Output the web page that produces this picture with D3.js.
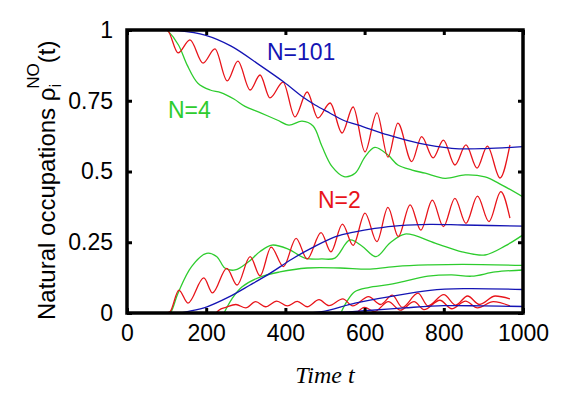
<!DOCTYPE html>
<html>
<head>
<meta charset="utf-8">
<script src="https://cdn.jsdelivr.net/npm/d3@7"></script>
<style>
  body { margin: 0; background: #fff; }
  svg { display: block; }
  text { font-family: "Liberation Sans", Arial, sans-serif; }
</style>
</head>
<body>
<div id="chart"></div>
<script>
// values: [time, occupation]
var xTicks = [0, 200, 400, 600, 800, 1000];
var yTicks = [0, 0.25, 0.5, 0.75, 1];
var yTickLabels = ["0", "0.25", "0.5", "0.75", "1"];

// N=101 (blue)
var blueTop = [[100,1],[129,0.998],[197,0.982],[263,0.943],[336,0.875],[396,0.816],[444,0.763],[475,0.735],[513,0.706],[545,0.682],[597,0.658],[659,0.629],[736,0.6],[820,0.582],[904,0.581],[1000,0.588]];
var blueMid = [[100,0],[134,0],[152,0.005],[202,0.022],[255,0.055],[311,0.099],[361,0.14],[417,0.191],[467,0.23],[525,0.269],[576,0.287],[626,0.299],[689,0.309],[765,0.313],[848,0.311],[1000,0.307]];
var blueLow = [[440,0],[492,0.005],[576,0.035],[664,0.058],[765,0.08],[850,0.086],[1000,0.083]];
var blueBottom = [[520,0],[600,0.008],[700,0.018],[800,0.026],[900,0.025],[1000,0.023]];

// N=2 (red)
var redTop = [[100,1],[104,0.996],[129,0.919],[159,0.965],[192,0.883],[222,0.933],[253,0.82],[280,0.89],[311,0.788],[336,0.841],[361,0.76],[394,0.816],[424,0.693],[455,0.781],[482,0.689],[513,0.742],[543,0.636],[571,0.728],[601,0.569],[631,0.707],[659,0.551],[684,0.671],[719,0.535],[744,0.623],[773,0.548],[799,0.611],[828,0.523],[856,0.594],[884,0.512],[910,0.59],[942,0.477],[967,0.594]];
var redMid = [[100,0],[109,0.005],[131,0.081],[154,0.035],[194,0.124],[216,0.071],[252,0.158],[278,0.099],[311,0.199],[336,0.131],[364,0.233],[395,0.164],[427,0.264],[455,0.191],[490,0.284],[515,0.216],[544,0.314],[571,0.239],[601,0.353],[631,0.252],[659,0.373],[685,0.27],[715,0.382],[742,0.293],[771,0.399],[799,0.305],[828,0.405],[856,0.317],[885,0.413],[914,0.323],[944,0.429],[967,0.335]];
var redLow = [[225,0],[232,0.01],[250,0.02],[275,0.03],[300,0.018],[325,0.04],[350,0.022],[378,0.042],[405,0.025],[430,0.041],[455,0.022],[485,0.047],[510,0.026],[545,0.05],[570,0.025],[610,0.058],[640,0.03],[670,0.063],[695,0.02],[735,0.07],[760,0.025],[800,0.065],[830,0.028],[860,0.06],[890,0.03],[930,0.06],[967,0.05]];
var redBottom = [[580,0],[600,0.02],[625,0.005],[660,0.04],[690,0.01],[725,0.04],[750,0.012],[790,0.045],[820,0.015],[855,0.042],[885,0.018],[925,0.04],[967,0.025]];

// N=4 (green)
var greenTop = [[100,1],[104,0.996],[130,0.947],[152,0.876],[179,0.812],[210,0.788],[237,0.779],[270,0.756],[298,0.73],[336,0.708],[379,0.682],[409,0.664],[442,0.678],[470,0.661],[492,0.59],[518,0.517],[548,0.482],[576,0.494],[601,0.552],[626,0.585],[659,0.558],[684,0.523],[720,0.505],[753,0.494],[803,0.476],[854,0.488],[904,0.481],[947,0.452],[1000,0.41]];
var greenB = [[100,0],[109,0],[129,0.071],[163,0.164],[201,0.211],[227,0.199],[247,0.159],[273,0.152],[306,0.18],[336,0.217],[366,0.24],[407,0.226],[449,0.194],[492,0.191],[525,0.194],[563,0.258],[593,0.237],[629,0.199],[664,0.247],[702,0.279],[778,0.247],[846,0.216],[904,0.205],[955,0.237],[1000,0.276]];
var greenC = [[245,0],[265,0.05],[290,0.092],[336,0.127],[386,0.145],[455,0.159],[538,0.159],[614,0.155],[682,0.165],[765,0.17],[848,0.172],[1000,0.168]];
var greenD = [[540,0],[555,0.04],[575,0.075],[610,0.09],[660,0.1],[700,0.112],[760,0.13],[820,0.135],[870,0.13],[930,0.145],[1000,0.152]];

var width = 561, height = 393;
var margin = {top: 30, right: 38, bottom: 80, left: 127};

var svg = d3.select("#chart").append("svg")
    .attr("width", width)
    .attr("height", height);

var x = d3.scaleLinear().domain([0, 1000]).range([margin.left, width - margin.right]);
var y = d3.scaleLinear().domain([0, 1]).range([height - margin.bottom, margin.top]);

var plot = svg.append("g");
svg.append("clipPath").attr("id", "clip")
    .append("rect")
    .attr("x", x(0)).attr("y", y(1))
    .attr("width", x(1000) - x(0)).attr("height", y(0) - y(1));

var smooth = d3.line()
    .x(function(d) { return x(d[0]); })
    .y(function(d) { return y(d[1]); })
    .curve(d3.curveCatmullRom.alpha(0.5));
var wavy = d3.line()
    .x(function(d) { return x(d[0]); })
    .y(function(d) { return y(d[1]); })
    .curve(d3.curveMonotoneX);

var series = [
    {d: greenTop, c: "#2ecc2e", l: smooth},
    {d: greenB, c: "#2ecc2e", l: smooth},
    {d: greenC, c: "#2ecc2e", l: smooth},
    {d: greenD, c: "#2ecc2e", l: smooth},
    {d: redTop, c: "#e8141a", l: wavy},
    {d: redMid, c: "#e8141a", l: wavy},
    {d: redLow, c: "#e8141a", l: wavy},
    {d: redBottom, c: "#e8141a", l: wavy},
    {d: blueTop, c: "#1414b4", l: smooth},
    {d: blueMid, c: "#1414b4", l: smooth},
    {d: blueLow, c: "#1414b4", l: smooth},
    {d: blueBottom, c: "#1414b4", l: smooth}
];

plot.selectAll("path.curve")
    .data(series)
    .enter().append("path")
    .attr("class", "curve")
    .attr("clip-path", "url(#clip)")
    .attr("fill", "none")
    .attr("stroke", function(d) { return d.c; })
    .attr("stroke-width", 1.3)
    .attr("d", function(d) { return d.l(d.d); });

// inward ticks on all four sides
var tickLen = 5;
var xAxisB = d3.axisBottom(x).tickValues(xTicks).tickSizeInner(-tickLen).tickSizeOuter(0).tickPadding(12)
    .tickFormat(d3.format("d"));
var xAxisT = d3.axisTop(x).tickValues(xTicks).tickSizeInner(-tickLen).tickSizeOuter(0).tickFormat("");
var yAxisL = d3.axisLeft(y).tickValues(yTicks).tickSizeInner(-tickLen).tickSizeOuter(0).tickPadding(14)
    .tickFormat(function(d, i) { return yTickLabels[i]; });
var yAxisR = d3.axisRight(y).tickValues(yTicks).tickSizeInner(-tickLen).tickSizeOuter(0).tickFormat("");

function styleAxis(g) {
    g.select(".domain").remove();
    g.selectAll(".tick line").attr("stroke", "#000").attr("stroke-width", 3);
    g.selectAll(".tick text").attr("fill", "#000").style("font-size", "23px")
        .style("font-family", "'Liberation Sans', Arial, sans-serif");
}

svg.append("g").attr("transform", "translate(0," + y(0) + ")").call(xAxisB).call(styleAxis);
svg.append("g").attr("transform", "translate(0," + y(1) + ")").call(xAxisT).call(styleAxis);
svg.append("g").attr("transform", "translate(" + x(0) + ",0)").call(yAxisL).call(styleAxis);
svg.append("g").attr("transform", "translate(" + x(1000) + ",0)").call(yAxisR).call(styleAxis);

// frame
svg.append("rect")
    .attr("x", x(0)).attr("y", y(1))
    .attr("width", x(1000) - x(0)).attr("height", y(0) - y(1))
    .attr("fill", "none").attr("stroke", "#000").attr("stroke-width", 3.5);

// series labels
svg.append("text").attr("x", 267).attr("y", 60).attr("fill", "#1414b4").style("font-size", "23px").text("N=101");
svg.append("text").attr("x", 168).attr("y", 118).attr("fill", "#2ecc2e").style("font-size", "23px").text("N=4");
svg.append("text").attr("x", 318).attr("y", 208).attr("fill", "#e8141a").style("font-size", "23px").text("N=2");

// axis titles
svg.append("text")
    .attr("x", x(500)).attr("y", 383)
    .attr("text-anchor", "middle")
    .style("font-family", "'Liberation Serif', 'Times New Roman', serif")
    .style("font-style", "italic")
    .style("font-size", "24px")
    .text("Time t");

var yTitle = svg.append("text")
    .attr("transform", "translate(55," + 320 + ") rotate(-90)")
    .style("font-size", "24px");
yTitle.append("tspan").text("Natural occupations \u03c1");
yTitle.append("tspan").attr("dy", 6).style("font-size", "17px").text("i");
yTitle.append("tspan").attr("dx", -5).attr("dy", -22).style("font-size", "17px").text("NO");
yTitle.append("tspan").attr("dy", 16).text("(t)");
</script>
</body>
</html>
